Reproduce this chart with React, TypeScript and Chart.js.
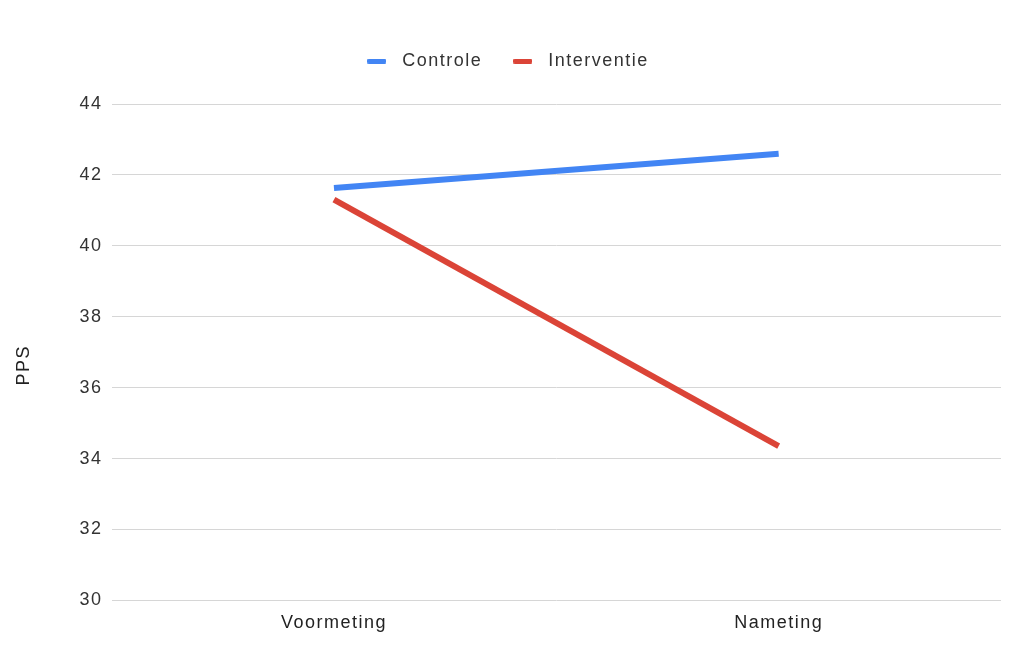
import React, { useEffect, useRef } from "react";
import { Chart, registerables } from "chart.js";

Chart.register(...registerables);

const categories = ["Voormeting", "Nameting"];
const controleValues = [41.63, 42.6];
const interventieValues = [41.3, 34.35];
const yTicks = [30, 32, 34, 36, 38, 40, 42, 44];

const BLUE = "#4285f4";
const RED = "#db4437";
const FONT = "Arial, 'Liberation Sans', sans-serif";
const SPACING = "1.5px";

// Short rounded bar used as the legend marker
function legendMarker(color: string): HTMLCanvasElement {
  const c = document.createElement("canvas");
  c.width = 19;
  c.height = 5;
  const g = c.getContext("2d")!;
  g.fillStyle = color;
  g.beginPath();
  (g as any).roundRect ? (g as any).roundRect(0, 0, 19, 5, 1.5) : g.rect(0, 0, 19, 5);
  g.fill();
  return c;
}

// Slightly tracked-out text everywhere on the canvas
const letterSpacingPlugin = {
  id: "letterSpacing",
  beforeUpdate(chart: any) {
    chart.ctx.letterSpacing = SPACING;
  },
  beforeDraw(chart: any) {
    chart.ctx.letterSpacing = SPACING;
  },
};

// Extra room between the legend and the plot area
const legendGapPlugin = {
  id: "legendGap",
  beforeInit(chart: any) {
    const fit = chart.legend.fit;
    chart.legend.fit = function () {
      fit.call(this);
      this.height += 24;
    };
  },
};

export default function App() {
  const ref = useRef<HTMLCanvasElement | null>(null);

  useEffect(() => {
    if (!ref.current) return;
    const chart = new Chart(ref.current, {
      type: "line",
      data: {
        labels: categories,
        datasets: [
          {
            label: "Controle",
            data: controleValues,
            borderColor: BLUE,
            backgroundColor: BLUE,
            borderWidth: 6,
            pointRadius: 0,
            pointStyle: legendMarker(BLUE),
          },
          {
            label: "Interventie",
            data: interventieValues,
            borderColor: RED,
            backgroundColor: RED,
            borderWidth: 6,
            pointRadius: 0,
            pointStyle: legendMarker(RED),
          },
        ],
      },
      options: {
        responsive: false,
        animation: false,
        layout: { padding: { left: 8, right: 21, top: 28, bottom: 20 } },
        plugins: {
          tooltip: { enabled: false },
          legend: {
            position: "top",
            labels: {
              usePointStyle: true,
              pointStyleWidth: 33,
              padding: 24,
              color: "#333",
              font: { family: FONT, size: 18 },
            },
          },
        },
        scales: {
          x: {
            offset: true,
            grid: { display: false },
            border: { display: false },
            ticks: { color: "#222", font: { family: FONT, size: 18 }, padding: 4 },
          },
          y: {
            min: 30,
            max: 44,
            afterBuildTicks: (s: any) => {
              s.ticks = yTicks.map((v) => ({ value: v }));
            },
            grid: { color: "#d6d6d6", lineWidth: 1, drawTicks: false },
            border: { display: false },
            ticks: { color: "#333", font: { family: FONT, size: 18 }, padding: 9 },
            title: {
              display: true,
              // trailing spaces nudge the rotated label down a little
              text: "PPS    ",
              color: "#222",
              font: { family: FONT, size: 18 },
              padding: { top: 5, bottom: 36 },
            },
          },
        },
      },
      plugins: [letterSpacingPlugin, legendGapPlugin],
    });
    return () => chart.destroy();
  }, []);

  return (
    <div style={{ position: "fixed", left: 0, top: 0, width: 1022, height: 658, background: "#fff" }}>
      <canvas ref={ref} width={1022} height={658} style={{ display: "block" }} />
    </div>
  );
}
